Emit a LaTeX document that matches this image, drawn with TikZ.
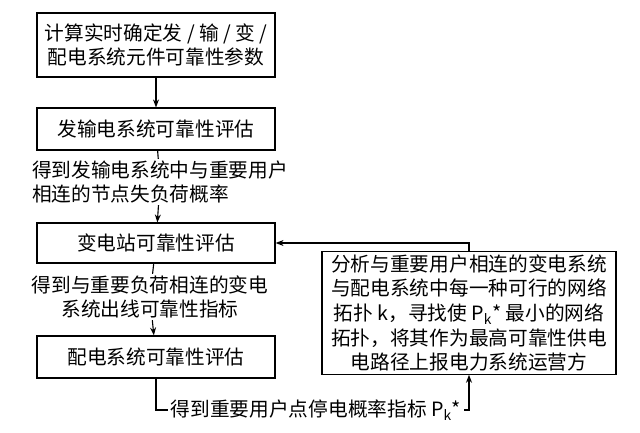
\documentclass[tikz,border=0pt]{standalone}
\usepackage{fontspec}
\setmainfont{Liberation Serif}
\newfontfamily\cjk{Noto Sans CJK SC}
\usetikzlibrary{arrows.meta,positioning}
\tikzset{
    stepbox/.style={
        draw,
        thick,
        rectangle,
        align=center,
        minimum width=5.95cm,
        font=\cjk\fontsize{14}{17.5}\selectfont
    },
    note/.style={
        align=left,
        inner sep=1pt,
        font=\cjk\fontsize{14}{17.5}\selectfont
    },
    arrow/.style={
        -{Stealth[length=2mm]},
        thick
    }
}
\begin{document}
\begin{tikzpicture}[x=0.025cm,y=-0.025cm]
    \useasboundingbox (0,0) rectangle (640,433);
    % Left column
    \node[stepbox, minimum height=1.6cm] (calc) at (156,45) {计算实时确定发 / 输 / 变 /\\配电系统元件可靠性参数};
    \node[stepbox, minimum height=1.05cm] (gen) at (156,129) {发输电系统可靠性评估};
    \node[note] (genres) at (160,182) {得到发输电系统中与重要用户\\相连的节点失负荷概率};
    \node[stepbox, minimum height=1.0cm] (sub) at (156,243) {变电站可靠性评估};
    \node[note, align=center] (subres) at (150,297) {得到与重要负荷相连的变电\\系统出线可靠性指标};
    \node[stepbox, minimum height=1.05cm] (dist) at (156,357) {配电系统可靠性评估};
    % Right box
    \node[stepbox, minimum width=7.35cm, minimum height=2.75cm, inner sep=2pt] (topo) at (469,313)
        {分析与重要用户相连的变电系统\\与配电系统中每一种可行的网络\\拓扑 \textit{k}，寻找使 \textit{P\textsubscript{k}*} 最小的网络\\拓扑，将其作为最高可靠性供电\\电路径上报电力系统运营方};
    \coordinate (low) at (156,410);
    \node[note, fill=white, inner sep=2pt] (distres) at (316,410) {得到重要用户点停电概率指标 \textit{P\textsubscript{k}*}};
    \coordinate (back) at (469,410);
    % Arrows
    \draw[arrow] (calc) -- (gen);
    \draw[thick] (gen) -- (genres);
    \draw[arrow] (genres) -- (sub);
    \draw[thick] (sub) -- (subres);
    \draw[arrow] (subres) -- (dist);
    \draw[thick] (dist) -- (low) -- (distres);
    \draw[arrow] (distres) -- (back) -- (topo);
    \draw[arrow] (topo.north) |- (sub.east);
\end{tikzpicture}
\end{document}
